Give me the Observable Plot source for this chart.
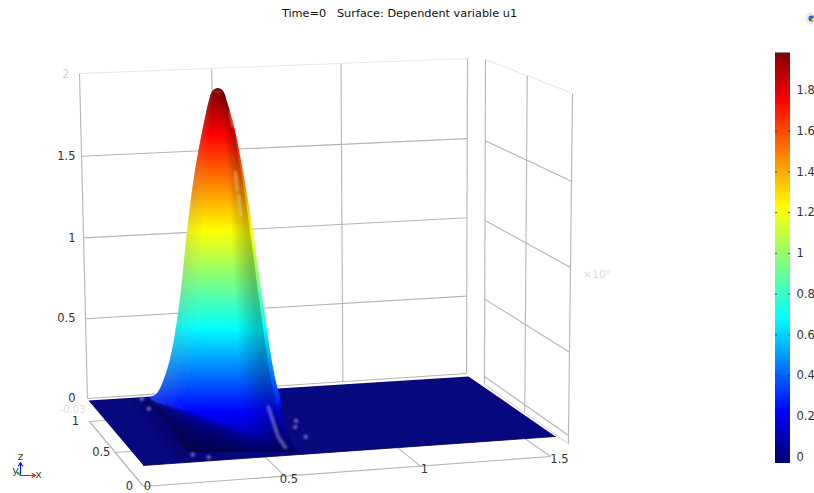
<!DOCTYPE html>
<html><head><meta charset="utf-8">
<script src="https://cdn.jsdelivr.net/npm/d3@7"></script>
<script src="https://cdn.jsdelivr.net/npm/@observablehq/plot@0.6"></script>
<style>
html,body{margin:0;padding:0;background:#fff;overflow:hidden}
#wrap{position:relative;width:814px;height:493px}
#wrap svg{position:absolute;top:0;left:0;background:transparent;overflow:visible}
.soft{filter:blur(1.3px)}
.soft2{filter:blur(2.5px)}
</style></head><body><div id="wrap"></div>
<script>
// ---- axis ticks (world units)
const xTicks = [0, 0.5, 1, 1.5];
const yTicks = [0, 0.5, 1];
const zTicks = [0, 0.5, 1, 1.5, 2];
const barTicks = [0, 0.2, 0.4, 0.6, 0.8, 1, 1.2, 1.4, 1.6, 1.8];
const titleText = "Time=0   Surface: Dependent variable u1";
// ---- colour table (value -> colour)
const colorValues = [0, 0.22, 0.68, 1.22, 1.75, 1.985];
const colorStops = ["#00007f", "#0000ff", "#00ffff", "#ffff00", "#ff0000", "#7f0000"];
const floorFill = "#08087f";
const barMin = -0.03, barMax = 1.985;
// ---- the surface: outline of the bump, height and left/right position along x
const humpZ = [2.006,2.002,1.994,1.978,1.939,1.829,1.664,1.499,1.333,1.113,.893,.782,.672,.562,.452,.397,.342,.314,.300,.231,.121,.039,0];
const humpL = [.4359,.4267,.4193,.4119,.4037,.3870,.3648,.3463,.3315,.3148,.3000,.2907,.2796,.2667,.2481,.2352,.2185,.2037,.1852,.2111,.2667,.3037,.3259];
const humpR = [.4359,.4452,.4526,.4600,.4685,.4907,.5148,.5352,.5537,.5759,.5963,.6074,.6185,.6296,.6426,.6500,.6593,.6648,.6674,.6741,.6926,.7148,.7407];
// glints on the surface [x, z] and on the floor [x, y]
const glintLow = [[.622,.248],[.659,.083],[.685,.028]];
const glintHigh1 = [[.481,1.873],[.490,1.80]];
const glintHigh2 = [[.500,1.543],[.507,1.444]];
const glintHigh3 = [[.511,1.416],[.519,1.306]];
const glintTop = [[.425,1.985],[.445,1.985]];
const floorGlints = [[.19,.81],[.197,.97],[.195,.10],[.24,.05],[.667,.48],[.639,.24],[.64,.39]];
const floorShadow = [[.17,.97],[.25,.97],[.30,.05],[.13,.05]];

// ---- camera: one plane mapping per drawn surface
function plane(q, uMax, vMax) {
  const [[x0,y0],[x1,y1],[x2,y2],[x3,y3]] = q;
  const dx1=x1-x2, dx2=x3-x2, sx=x0-x1+x2-x3, dy1=y1-y2, dy2=y3-y2, sy=y0-y1+y2-y3;
  const den=dx1*dy2-dx2*dy1, g=(sx*dy2-dx2*sy)/den, h=(dx1*sy-sx*dy1)/den;
  const a=x1-x0+g*x1, b=x3-x0+h*x3, d=y1-y0+g*y1, e=y3-y0+h*y3;
  return (p,r) => { const u=p/uMax, v=r/vMax, w=g*u+h*v+1; return [(a*u+b*v+x0)/w,(d*u+e*v+y0)/w]; };
}
const back  = plane([[87,398],[466,373],[467,58],[79,73]], 1.5, 2);      // x, z
const right = plane([[484,376],[568,435],[572,93],[485,59]], 1, 2);      // 1-y, z
const floorG= plane([[143,486],[550,456],[466,397],[89,421]], 1.5, 1);   // x, y
const surf  = plane([[143,465],[555,436],[468,376],[88,400]], 1.5, 1);   // x, y
const hump  = plane([[100,452],[370,452],[370,89],[100,89]], 1, 2);      // x, z

const seg = (f, a, b) => { const p=f(...a), q=f(...b); return {x1:p[0],y1:p[1],x2:q[0],y2:q[1]}; };
const links = (segs, o) => Plot.link(segs, {x1:"x1",y1:"y1",x2:"x2",y2:"y2",...o});
const grid = {stroke:"#b5b5b5", strokeWidth:1.1};
const pale = {stroke:"#e6e6e6", strokeWidth:1};
const humpRows = humpZ.map((z,i)=>({z,L:humpL[i],R:humpR[i]}));
const curve = "monotone-y";
const rowX = (d,t) => hump(d.L+t*(d.R-d.L),d.z)[0];
const rowY = d => hump(0,d.z)[1];
// shaded strips across the bump, as fractions of its width
const band = (f0,f1,fill,op) => Plot.area(humpRows,{x1:d=>rowX(d,f0),x2:d=>rowX(d,f1),y1:rowY,y2:rowY,fill,fillOpacity:op,curve});
const stripL = (f,fill,op,w) => Plot.area(humpRows,{x1:d=>rowX(d,0),x2:d=>rowX(d,f*w(d.z)),y1:rowY,y2:rowY,fill,fillOpacity:op,curve});
const stripR = (f,fill,op,w) => Plot.area(humpRows,{x1:d=>rowX(d,1-f*w(d.z)),x2:d=>rowX(d,1),y1:rowY,y2:rowY,fill,fillOpacity:op,curve});
const px = f => d => f(...d)[0], py = f => d => f(...d)[1];
const gradient = () => {
  const s=document.createElementNS("http://www.w3.org/2000/svg","g");
  const g=d3.select(s).append("defs").append("linearGradient").attr("id","humpFill")
    .attr("gradientUnits","userSpaceOnUse").attr("x1",0).attr("x2",0)
    .attr("y1",hump(0,0)[1]).attr("y2",hump(0,2)[1]);
  colorValues.forEach((v,i)=>g.append("stop").attr("offset",Math.min(1,v/2)).attr("stop-color",colorStops[i]));
  return s;
};
const shared = {domain:colorValues, range:colorStops, type:"linear", interpolate:d3.interpolateRgb};
const footWeight = z => Math.max(0,1-z/0.3);

const main = Plot.plot({
  width:814, height:493, margin:0,
  x:{domain:[0,814],range:[0,814],axis:null}, y:{domain:[0,493],range:[0,493],axis:null},
  color:shared,
  style:{fontFamily:"'DejaVu Sans',sans-serif",background:"transparent"},
  marks:[
    gradient,
    // floor frame
    links(xTicks.map(x=>seg(floorG,[x,0],[x,1])),grid),
    links(yTicks.map(y=>seg(floorG,[0,y],[1.5,y])),grid),
    links([seg(floorG,[0,0],[0,1])],grid),
    // back wall
    links(xTicks.map(x=>seg(back,[x,0],[x,2])),grid),
    links(zTicks.filter(z=>z<2).map(z=>seg(back,[0,z],[1.5,z])),grid),
    links([seg(back,[0,2],[1.5,2])],pale),
    // right wall
    links(yTicks.map(y=>seg(right,[y,-.05],[y,2])),grid),
    links(zTicks.filter(z=>z<2).map(z=>seg(right,[0,z],[1,z])),grid),
    links([seg(right,[0,2],[1,2])],pale),
    links([seg(right,[0,-.05],[1,-.05])],{stroke:"#d0d0d0",strokeWidth:1}),
    // surface base
    Plot.line([[0,0],[1.5,0],[1.5,1],[0,1],[0,0]],{x:px(surf),y:py(surf),fill:floorFill,stroke:"none"}),
    Plot.line([[0,0],[1.5,0]],{x:px(surf),y:py(surf),stroke:"#03033a",strokeWidth:.8}),
    Plot.line(floorShadow,{x:px(surf),y:py(surf),fill:"#03035e",fillOpacity:.4,stroke:"none",className:"soft2"}),
    // bump
    Plot.area(humpRows,{x1:d=>rowX(d,0),x2:d=>rowX(d,1),y1:rowY,y2:rowY,fill:"url(#humpFill)",curve}),
    // crease on the right flank, matte left flank
    ...d3.range(.68,.92,.03).map(f=>band(f,.96,"#000",.03)),
    ...[.22,.16,.1,.05].map(f=>stripL(f,"#a0a0a0",.05,()=>1)),
    // dark foot of the bump
    ...[.1,.2,.3,.4,.5,.6,.7,.8,.9,.99].map(f=>stripL(f,"#000040",.14,footWeight)),
    ...[.25,.15,.07].map(f=>stripR(f,"#000040",.12,footWeight)),
    Plot.line(glintLow,{x:px(hump),y:py(hump),stroke:"#b4b4f0",strokeOpacity:.45,strokeWidth:4,className:"soft"}),
    ...[glintHigh1,glintHigh2,glintHigh3].map(g=>Plot.line(g,{x:px(hump),y:py(hump),stroke:"#ffd9b0",strokeOpacity:.4,strokeWidth:3.5,className:"soft"})),
    Plot.line(glintTop,{x:px(hump),y:py(hump),stroke:"#fff",strokeOpacity:.3,strokeWidth:1.5,className:"soft"}),
    Plot.dot(floorGlints,{x:px(surf),y:py(surf),r:2.3,fill:"#9c9ce0",fillOpacity:.6,className:"soft"}),
    // labels
    Plot.text([titleText],{x:()=>399,y:()=>13,text:d=>d,fontSize:11.3,fill:"#111"}),
    Plot.text(zTicks.filter(z=>z<2),{x:()=>75,y:z=>back(0,z)[1],text:z=>String(z),textAnchor:"end",fontSize:11.5,fill:"#333"}),
    Plot.text([2],{x:()=>69,y:z=>back(0,z)[1]+1,text:z=>String(z),textAnchor:"end",fontSize:11.5,fill:"#d4d4d4"}),
    Plot.text([barMin],{x:()=>85,y:()=>409,text:z=>String(z),textAnchor:"end",fontSize:10,fill:"#e0e0e0"}),
    Plot.text(xTicks.filter(x=>x>0&&x<1.5),{x:x=>floorG(x,0)[0]+4,y:x=>floorG(x,0)[1]+3,text:x=>String(x),fontSize:11.5,fill:"#333"}),
    Plot.text([0],{x:x=>floorG(x,0)[0]+4,y:()=>486,text:x=>String(x),fontSize:11.5,fill:"#333"}),
    Plot.text([1.5],{x:x=>floorG(x,0)[0]+9,y:x=>floorG(x,0)[1]+3,text:x=>String(x),fontSize:11.5,fill:"#333"}),
    Plot.text(yTicks,{x:y=>floorG(0,y)[0]-14,y:y=>floorG(0,y)[1],text:y=>String(y),fontSize:11.5,fill:"#333"}),
    Plot.text(["×10⁰"],{x:()=>596,y:()=>274,text:d=>d,fontSize:11,fill:"#dcdcdc"}),
    // axis triad
    Plot.arrow([{a:"x"}],{x1:()=>20,y1:()=>475,x2:()=>35,y2:()=>475,stroke:"#e01818",strokeWidth:1.2,headLength:5}),
    Plot.arrow([{a:"z"}],{x1:()=>20,y1:()=>475,x2:()=>20,y2:()=>462,stroke:"#1818e0",strokeWidth:1.2,headLength:5}),
    Plot.arrow([{a:"y"}],{x1:()=>20,y1:()=>475,x2:()=>17,y2:()=>472,stroke:"#10b010",strokeWidth:1.2,headLength:3}),
    Plot.text(["x"],{x:()=>38,y:()=>474,text:d=>d,fontSize:11,fill:"#444"}),
    Plot.text(["y"],{x:()=>15,y:()=>470,text:d=>d,fontSize:11,fill:"#444"}),
    Plot.text(["z"],{x:()=>20,y:()=>456,text:d=>d,fontSize:11,fill:"#444"}),
    // toolbar glyph at the edge
    Plot.dot([0],{x:()=>811,y:()=>18,r:6,fill:"#e8e8ee"}),
    Plot.dot([0],{x:()=>811,y:()=>18,r:3,fill:"#3a5fb0"}),
    Plot.dot([0],{x:()=>813,y:()=>19,r:2,fill:"#e6cf50"})
  ]
});

const bands = d3.range(barMin, barMax, 0.01);
const bar = Plot.plot({
  width:74, height:493, margin:0,
  x:{domain:[740,814],range:[0,74],axis:null},
  y:{domain:[barMin,barMax],range:[463,52],axis:null},
  color:shared,
  style:{fontFamily:"'DejaVu Sans',sans-serif",background:"transparent"},
  marks:[
    Plot.rect(bands,{x1:()=>775,x2:()=>790,y1:d=>d,y2:d=>Math.min(barMax,d+0.016),fill:d=>Math.max(0,d+0.005),shapeRendering:"crispEdges"}),
    Plot.ruleY([barMax],{x1:()=>775,x2:()=>790,stroke:"#888",strokeWidth:1}),
    Plot.ruleY(barTicks,{x1:()=>775,x2:()=>777,stroke:"#222",strokeWidth:1,strokeOpacity:.7}),
    Plot.ruleY(barTicks,{x1:()=>788,x2:()=>790,stroke:"#222",strokeWidth:1,strokeOpacity:.7}),
    Plot.text(barTicks,{x:()=>796,y:d=>d,text:d=>String(d),textAnchor:"start",fontSize:11.5,fill:"#333"})
  ]
});
bar.style.left="740px";
const wrap=document.getElementById("wrap");
wrap.append(main); wrap.append(bar);
</script></body></html>
